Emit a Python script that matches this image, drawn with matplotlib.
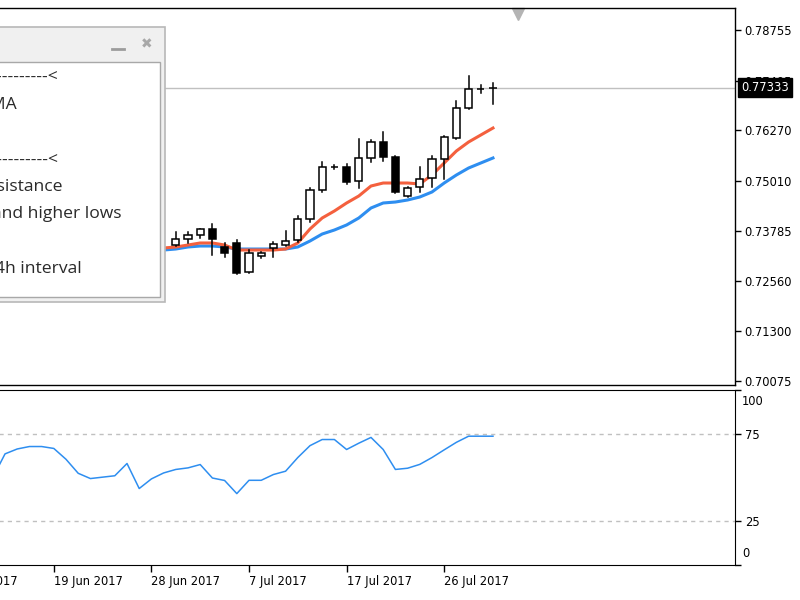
import matplotlib
matplotlib.use("Agg")
import matplotlib.pyplot as plt
from matplotlib.patches import Rectangle
from matplotlib.transforms import blended_transform_factory

# bar slots counted from the left edge of the screenshot (41 = newest bar)
candle_idx = list(range(15, 42))
opens = [0.73438, 0.73586, 0.73685, 0.73834, 0.73389, 0.73488, 0.72770, 0.73166, 0.73364,
         0.73438, 0.73562, 0.74081, 0.74798, 0.75367, 0.75367, 0.75021, 0.75590, 0.75985,
         0.75614, 0.74650, 0.74872, 0.75095, 0.75565, 0.76084, 0.76826, 0.77296, 0.77321]
highs = [0.73760, 0.73760, 0.73834, 0.73957, 0.73488, 0.73562, 0.73314, 0.73265, 0.73512,
         0.73784, 0.74155, 0.74848, 0.75491, 0.75416, 0.75441, 0.76059, 0.76035, 0.76233,
         0.75639, 0.74872, 0.75367, 0.75639, 0.76134, 0.76999, 0.77617, 0.77395, 0.77444]
lows = [0.73413, 0.73488, 0.73611, 0.73191, 0.73141, 0.72721, 0.72746, 0.73117, 0.73141,
        0.73413, 0.73512, 0.74007, 0.74749, 0.75318, 0.74947, 0.74848, 0.75491, 0.75515,
        0.74724, 0.74625, 0.74749, 0.74872, 0.75070, 0.76059, 0.76801, 0.77197, 0.76925]
closes = [0.73586, 0.73685, 0.73834, 0.73586, 0.73240, 0.72746, 0.73240, 0.73240, 0.73463,
          0.73537, 0.74081, 0.74798, 0.75367, 0.75372, 0.74996, 0.75590, 0.75985, 0.75614,
          0.74749, 0.74848, 0.75070, 0.75565, 0.76109, 0.76826, 0.77296, 0.77305, 0.77333]

ma_idx = list(range(13, 42))
ma_fast = [0.73339, 0.73364, 0.73389, 0.73438, 0.73488, 0.73488, 0.73438, 0.73314, 0.73314,
           0.73314, 0.73314, 0.73339, 0.73488, 0.73834, 0.74106, 0.74279, 0.74477, 0.74650,
           0.74897, 0.74971, 0.74971, 0.74971, 0.74947, 0.75169, 0.75466, 0.75763, 0.75985,
           0.76158, 0.76331]
ma_slow = [0.73290, 0.73314, 0.73339, 0.73389, 0.73413, 0.73413, 0.73389, 0.73339, 0.73339,
           0.73339, 0.73339, 0.73339, 0.73389, 0.73537, 0.73710, 0.73809, 0.73933, 0.74106,
           0.74353, 0.74477, 0.74501, 0.74551, 0.74625, 0.74749, 0.74971, 0.75169, 0.75342,
           0.75466, 0.75590]

osc_idx = list(range(0, 42))
osc = [50.0, 63.5, 66.3, 67.7, 67.7, 66.6, 60.4, 52.4, 49.4, 50.2, 51.0, 58.0, 43.7, 49.2,
       52.6, 54.6, 55.5, 57.4, 49.7, 48.3, 40.8, 48.4, 48.4, 51.7, 53.6, 61.4, 68.2, 71.7,
       71.7, 66.0, 69.6, 72.9, 66.0, 54.6, 55.3, 57.5, 61.4, 65.8, 70.1, 73.6, 73.6, 73.6]

date_ticks = [-3, 5, 13, 21, 29, 37]
date_labels = ["9 Jun 2017", "19 Jun 2017", "28 Jun 2017", "7 Jul 2017", "17 Jul 2017",
               "26 Jul 2017"]
price_ticks = [0.78755, 0.77495, 0.76270, 0.75010, 0.73785, 0.72560, 0.71300, 0.70075]
osc_ticks = [0, 25, 75, 100]
last_price = 0.77333

dialog_lines = [">------ Indicators ------------<", "EMA", "",
                ">------ Price action ----------<", "Resistance", "and higher lows", "",
                "4h interval"]

XLIM = (-5.97, 60.84)
AXIS_FONT = dict(family="DejaVu Sans", size=8.3)

fig = plt.figure(figsize=(8, 6), dpi=100)
ax = fig.add_axes([-0.1, 0.35833, 1.01875, 0.62833])
ax2 = fig.add_axes([-0.1, 0.05833, 1.01875, 0.29167])

# price panel
for i, o, h, l, c in zip(candle_idx, opens, highs, lows, closes):
    ax.plot([i, i], [l, h], color="black", lw=1.1, zorder=3)
    up = c >= o
    bottom = min(o, c)
    height = max(abs(c - o), 0.00006)
    ax.add_patch(Rectangle((i - 0.3, bottom), 0.6, height,
                           facecolor="white" if up else "black",
                           edgecolor="black", lw=1.1, zorder=4))
ax.axhline(last_price, color="#c0c0c0", lw=1, zorder=1)
ax.plot(ma_idx, ma_slow, color="#2e8ef0", lw=2.2, zorder=2)
ax.plot(ma_idx, ma_fast, color="#f4603e", lw=2.2, zorder=2)

ax.set_xlim(*XLIM)
ax.set_ylim(0.69976, 0.79299)
ax.yaxis.tick_right()
ax.set_yticks(price_ticks)
ax.set_yticklabels([f"{v:.5f}" for v in price_ticks], **AXIS_FONT)
ax.tick_params(axis="y", direction="out", length=4, width=1, pad=3)
ax.set_xticks([])
for s in ax.spines.values():
    s.set_linewidth(1.0)

bt = blended_transform_factory(ax.transAxes, ax.transData)
ax.annotate(f"{last_price:.5f}", xy=(1, last_price), xycoords=bt, xytext=(6, 0),
            textcoords="offset pixels", ha="left", va="center", color="white",
            fontfamily="DejaVu Sans", fontsize=8.3, annotation_clip=False, zorder=10,
            bbox=dict(boxstyle="square,pad=0.25", facecolor="black", edgecolor="black"))
# chart shift marker
mt = blended_transform_factory(ax.transData, ax.transAxes)
ax.plot([43.05], [0.985], marker="v", color="#b4b4b4", ms=8, transform=mt, clip_on=False)

# oscillator panel
ax2.axhline(75, color="#c0c0c0", lw=1, ls=(0, (3, 3)))
ax2.axhline(25, color="#c0c0c0", lw=1, ls=(0, (3, 3)))
ax2.plot(osc_idx, osc, color="#2e8ef0", lw=1.1)
ax2.set_xlim(*XLIM)
ax2.set_ylim(0, 100)
ax2.yaxis.tick_right()
ax2.set_yticks(osc_ticks)
# MT4 pushes the end labels inside the panel
ax2.set_yticklabels([str(v) if 0 < v < 100 else "" for v in osc_ticks], **AXIS_FONT)
bt2 = blended_transform_factory(ax2.transAxes, ax2.transData)
for v, dy, va in [(100, -5, "top"), (0, 5, "bottom")]:
    ax2.annotate(str(v), xy=(1, v), xycoords=bt2, xytext=(7, dy), textcoords="offset pixels",
                 ha="left", va=va, annotation_clip=False, fontfamily="DejaVu Sans",
                 fontsize=8.3)
ax2.tick_params(axis="y", direction="out", length=4, width=1, pad=3)
ax2.set_xticks(date_ticks)
ax2.set_xticklabels(date_labels, **AXIS_FONT)
for lab in ax2.get_xticklabels():
    lab.set_ha("left")
ax2.tick_params(axis="x", direction="out", length=5, width=1, pad=2)

# settings window lying over the left part of the chart
ov = fig.add_axes([0, 0, 1, 1])
ov.set_xlim(0, 800)
ov.set_ylim(600, 0)
ov.axis("off")
ov.patch.set_alpha(0)
ov.add_patch(Rectangle((-5, 27), 170, 275, facecolor="#f0f0f0", edgecolor="#b8b8b8", lw=1.2))
ov.add_patch(Rectangle((-5, 62), 165, 235, facecolor="white", edgecolor="#a8a8a8", lw=1))
ov.plot([112, 124], [49, 49], color="#9c9c9c", lw=2)
ov.text(147, 44, "\u2716", ha="center", va="center", color="#a8a8a8", fontsize=10,
        fontfamily="DejaVu Sans")
ends = [58, 17, 0, 58, 63, 121, 0, 82]
ys = [77, 105, 132, 160, 187, 214, 241, 269]
for txt, xe, yc in zip(dialog_lines, ends, ys):
    if txt:
        ov.text(xe, yc, txt, ha="right", va="center", color="#2a2a2a",
                fontfamily="Open Sans", fontsize=12.6)

fig.savefig("out.png", dpi=100)
